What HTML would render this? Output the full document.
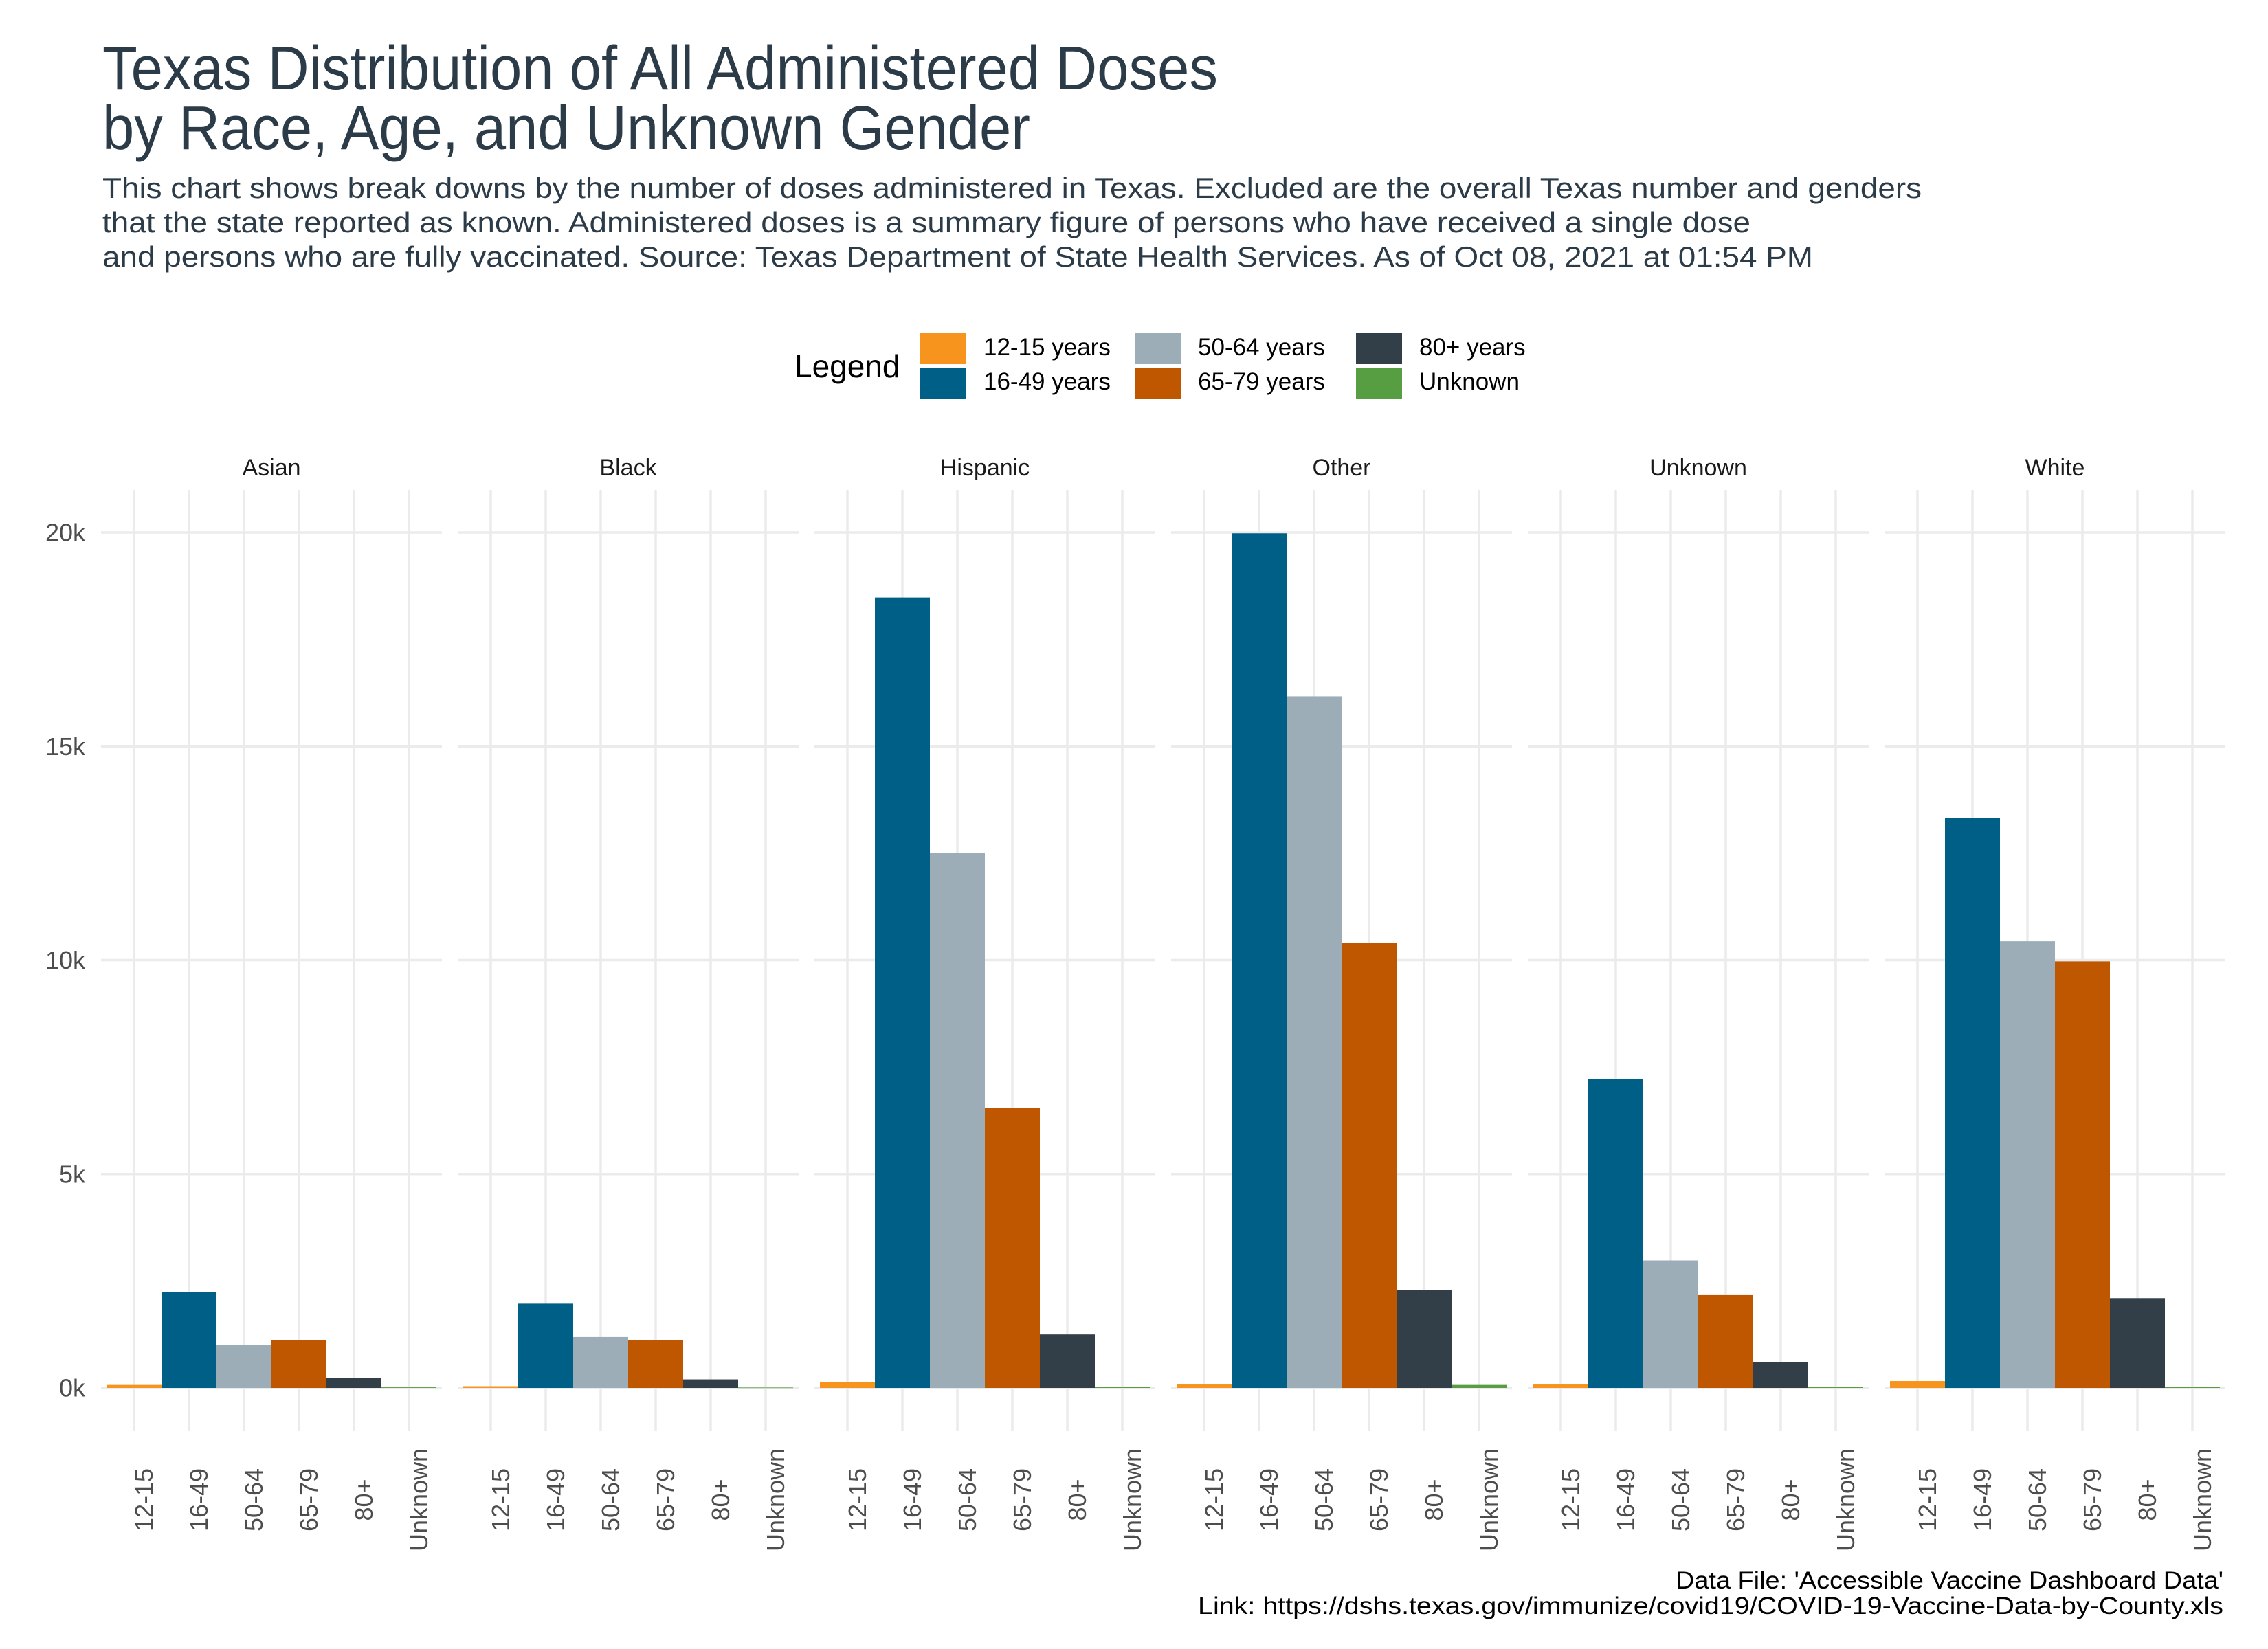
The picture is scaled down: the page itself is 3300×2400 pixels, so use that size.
<!DOCTYPE html>
<html><head><meta charset="utf-8">
<style>
html,body{margin:0;padding:0;background:#fff;}
svg{display:block;font-family:"Liberation Sans",sans-serif;}
</style></head>
<body>
<svg id="chart" width="3300" height="2400" viewBox="0 0 3300 2400" xmlns="http://www.w3.org/2000/svg">
<rect width="3300" height="2400" fill="#fff"/>
<g fill="#2c3b48" font-size="90">
<text x="149" y="130" textLength="1623" lengthAdjust="spacingAndGlyphs">Texas Distribution of All Administered Doses</text>
<text x="149" y="217" textLength="1350" lengthAdjust="spacingAndGlyphs">by Race, Age, and Unknown Gender</text>
</g>
<g fill="#2c3b48" font-size="42">
<text x="149" y="288" textLength="2647" lengthAdjust="spacingAndGlyphs">This chart shows break downs by the number of doses administered in Texas. Excluded are the overall Texas number and genders</text>
<text x="149" y="338" textLength="2398" lengthAdjust="spacingAndGlyphs">that the state reported as known. Administered doses is a summary figure of persons who have received a single dose</text>
<text x="149" y="388" textLength="2489" lengthAdjust="spacingAndGlyphs">and persons who are fully vaccinated. Source: Texas Department of State Health Services. As of Oct 08, 2021 at 01:54 PM</text>
</g>
<g id="legend">
<text x="1156" y="549" font-size="46" fill="#000">Legend</text>
</g>
<g id="plot"></g>
<g fill="#000" font-size="35" text-anchor="end">
<text x="3235" y="2312" textLength="797" lengthAdjust="spacingAndGlyphs">Data File: 'Accessible Vaccine Dashboard Data'</text>
<text x="3235" y="2349" textLength="1492" lengthAdjust="spacingAndGlyphs">Link: https://dshs.texas.gov/immunize/covid19/COVID-19-Vaccine-Data-by-County.xls</text>
</g>
</svg>
<script>
const races = ["Asian","Black","Hispanic","Other","Unknown","White"];
const ages = ["12-15","16-49","50-64","65-79","80+","Unknown"];
const legendLabels = ["12-15 years","16-49 years","50-64 years","65-79 years","80+ years","Unknown"];
const colors = ["#f7941d","#005f86","#9cadb7","#bf5700","#333f48","#579d42"];
const yTicks = [0,5000,10000,15000,20000];
const yTickLabels = ["0k","5k","10k","15k","20k"];
const asianVals = [70,2240,1000,1110,230,15];
const blackVals = [40,1970,1190,1120,200,10];
const hispanicVals = [140,18480,12500,6540,1250,30];
const otherVals = [80,19980,16170,10400,2290,70];
const unknownVals = [80,7220,2980,2170,610,20];
const whiteVals = [160,13320,10440,9970,2100,20];
const allVals = [asianVals,blackVals,hispanicVals,otherVals,unknownVals,whiteVals];

const NS = "http://www.w3.org/2000/svg";
const plot = document.getElementById("plot");
const PANEL_W = 496, PANEL_GAP = 23, PANEL_X0 = 147, STEP = 80;
const Y0 = 2020, PX_PER = 1245/20000, TOP = 713, BOT = 2082;
function yScale(v){ return Y0 - v*PX_PER; }
function panelX(i){ return PANEL_X0 + i*(PANEL_W+PANEL_GAP); }
function xScale(i,j){ return panelX(i) + 48 + STEP*j; }
function mk(tag, attrs, parent){ const e=document.createElementNS(NS,tag); for(const k in attrs) e.setAttribute(k,attrs[k]); parent.appendChild(e); return e; }

yTicks.forEach((t,k)=>{
  const tx = mk("text",{x:124,y:yScale(t),"font-size":36,fill:"#4d4d4d","text-anchor":"end","dominant-baseline":"central"},plot);
  
  
  tx.textContent = yTickLabels[k];
});

races.forEach((race,i)=>{
  const g = mk("g",{},plot);
  
  
  const px = panelX(i);
  yTicks.forEach(t=>{
    const l = mk("line",{x1:px,x2:px+PANEL_W,y1:yScale(t),y2:yScale(t),stroke:"#ebebeb","stroke-width":3.5},g);
    
    
  });
  ages.forEach((a,j)=>{
    const l = mk("line",{x1:xScale(i,j),x2:xScale(i,j),y1:TOP,y2:BOT,stroke:"#ebebeb","stroke-width":3.5},g);
    
    
  });
  const st = mk("text",{x:px+PANEL_W/2,y:681,"font-size":34,fill:"#1a1a1a","text-anchor":"middle","dominant-baseline":"central"},g);
  
  
  st.textContent = race;
  ages.forEach((a,j)=>{
    const v = allVals[i][j];
    const r = mk("rect",{x:xScale(i,j)-STEP/2,y:yScale(v),width:STEP,height:Math.max(Y0-yScale(v),0.8),fill:colors[j]},g);
    
    
  });
  ages.forEach((a,j)=>{
    const xl = xScale(i,j)+27;
    const tx = mk("text",{x:0,y:0,transform:"translate("+xl+",2183) rotate(-90)","font-size":36,fill:"#4d4d4d","text-anchor":"middle"},g);
    
    
    tx.textContent = a;
  });
});

const legend = document.getElementById("legend");
const colX = [1339,1651,1973];
legendLabels.forEach((lab,k)=>{
  const c = Math.floor(k/2), r = k%2;
  const g = mk("g",{},legend);
  
  
  mk("rect",{x:colX[c],y:484+r*51,width:67,height:46,fill:colors[k]},g);
  const t = mk("text",{x:colX[c]+92,y:517+r*50,"font-size":35,fill:"#000"},g);
  t.textContent = lab;
});
</script>
</body></html>
